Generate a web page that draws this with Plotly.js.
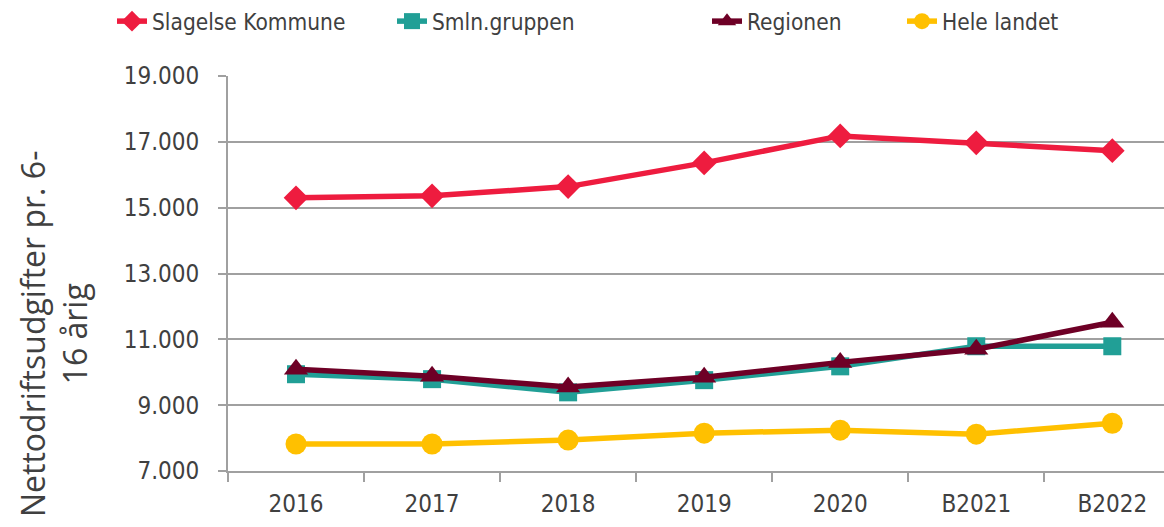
<!DOCTYPE html>
<html>
<head>
<meta charset="utf-8">
<script src="https://cdn.plot.ly/plotly-3.0.1.min.js"></script>
<style>html,body{margin:0;padding:0;background:#fff;}#chart{width:1164px;height:527px;}</style>
</head>
<body>
<div id="chart"></div>
<script>
const categories = ["2016", "2017", "2018", "2019", "2020", "B2021", "B2022"];
const slagelse = [15300, 15360, 15640, 16360, 17180, 16970, 16730];
const smln = [9940, 9790, 9390, 9760, 10180, 10790, 10790];
const regionen = [10090, 9880, 9550, 9850, 10300, 10700, 11520];
const heleLandet = [7820, 7820, 7940, 8150, 8240, 8120, 8450];
const seriesNames = ["Slagelse Kommune", "Smln.gruppen", "Regionen", "Hele landet"];
const yTicks = [7000, 9000, 11000, 13000, 15000, 17000, 19000];
const yTickLabels = ["7.000", "9.000", "11.000", "13.000", "15.000", "17.000", "19.000"];
const yTitle = "Nettodriftsudgifter pr. 6-<br>16 årig";

const FONT = "'DejaVu Sans Condensed', 'DejaVu Sans', sans-serif";
const TXT = "#404040";

function tr(name, y, color, symbol, size, lg) {
  return {
    type: "scatter", mode: "lines+markers", name: name,
    x: categories, y: y, legend: lg,
    line: {color: color, width: 5.5},
    marker: {color: color, symbol: symbol, size: size, line: {width: 0}},
    hoverinfo: "skip", cliponaxis: false
  };
}

const data = [
  tr(seriesNames[0], slagelse, "#EE1C3F", "diamond", 19, "legend"),
  tr(seriesNames[1], smln, "#219F96", "square", 18, "legend2"),
  tr(seriesNames[2], regionen, "#6E0026", "triangle-up", 21, "legend3"),
  tr(seriesNames[3], heleLandet, "#FFC000", "circle", 21, "legend4")
];

function lgd(textStart) {
  return {
    orientation: "h", x: (textStart - 40) / 1164, xref: "container", xanchor: "left",
    y: 1, yref: "container", yanchor: "top",
    font: {family: FONT, size: 22.5, color: TXT},
    bgcolor: "rgba(0,0,0,0)", borderwidth: 0
  };
}

const layout = {
  width: 1164, height: 527,
  margin: {l: 228, r: 0, t: 76, b: 56},
  paper_bgcolor: "#fff", plot_bgcolor: "#fff",
  font: {family: FONT, size: 24, color: TXT},
  showlegend: true,
  legend: lgd(152),
  legend2: lgd(432),
  legend3: lgd(747),
  legend4: lgd(942),
  xaxis: {
    type: "category", range: [-0.5, 6.38],
    showgrid: false, showline: true, linecolor: "#A0A0A0", linewidth: 2,
    ticks: "outside", tickson: "boundaries", ticklen: 9, tickcolor: "#A0A0A0", tickwidth: 2,
    ticklabelstandoff: 10,
    tickfont: {family: FONT, size: 24, color: TXT},
    zeroline: false, fixedrange: true
  },
  yaxis: {
    range: [7000, 19000], tickvals: yTicks, ticktext: yTickLabels,
    showgrid: true, gridcolor: "#A0A0A0", gridwidth: 2,
    showline: true, linecolor: "#A0A0A0", linewidth: 2,
    ticks: "outside", ticklen: 8, tickcolor: "#A0A0A0", tickwidth: 2,
    ticklabelstandoff: 14,
    tickfont: {family: FONT, size: 24, color: TXT},
    zeroline: false, fixedrange: true
  },
  annotations: [{
    text: yTitle, textangle: -90, showarrow: false,
    xref: "paper", yref: "paper",
    x: (53 - 228) / 936, y: (471 - 334) / 395,
    xanchor: "center", yanchor: "middle",
    font: {family: "'Open Sans', sans-serif", size: 32, color: TXT}
  }]
};

Plotly.newPlot("chart", data, layout, {displayModeBar: false, staticPlot: true});
</script>
</body>
</html>
